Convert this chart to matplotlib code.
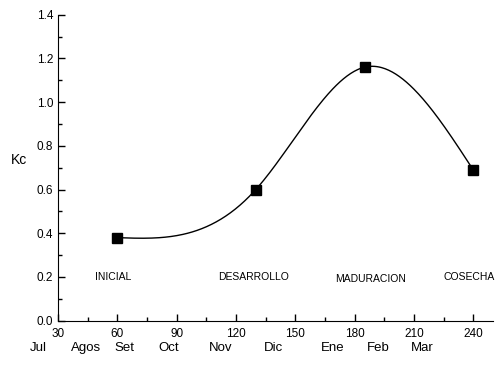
import numpy as np
import matplotlib
matplotlib.use("Agg")
import matplotlib.pyplot as plt
from matplotlib.ticker import MultipleLocator

plt.rcParams['font.family'] = ['Liberation Sans Narrow', 'Liberation Sans', 'DejaVu Sans']

# Data
days = [60, 130, 185, 240]
kc = [0.38, 0.60, 1.16, 0.69]

stages = ['INICIAL', 'DESARROLLO', 'MADURACION', 'COSECHA']
stage_x = [58, 129, 188, 238]
stage_y = [0.20, 0.20, 0.19, 0.20]

months = ['Jul', 'Agos', 'Set', 'Oct', 'Nov', 'Dic', 'Ene', 'Feb', 'Mar']
month_x = [20, 44, 63.5, 86, 112, 139, 169, 192, 214]


def natural_spline(x, y, xs):
    x = np.asarray(x, float)
    y = np.asarray(y, float)
    n = len(x)
    h = np.diff(x)
    A = np.zeros((n, n))
    b = np.zeros(n)
    A[0, 0] = A[-1, -1] = 1
    for i in range(1, n - 1):
        A[i, i - 1] = h[i - 1]
        A[i, i] = 2 * (h[i - 1] + h[i])
        A[i, i + 1] = h[i]
        b[i] = 3 * ((y[i + 1] - y[i]) / h[i] - (y[i] - y[i - 1]) / h[i - 1])
    c = np.linalg.solve(A, b)
    out = np.empty_like(xs)
    for k, xv in enumerate(xs):
        i = min(max(np.searchsorted(x, xv) - 1, 0), n - 2)
        dx = xv - x[i]
        bi = (y[i + 1] - y[i]) / h[i] - h[i] * (2 * c[i] + c[i + 1]) / 3
        di = (c[i + 1] - c[i]) / (3 * h[i])
        out[k] = y[i] + bi * dx + c[i] * dx ** 2 + di * dx ** 3
    return out


fig = plt.figure(figsize=(4.96, 3.69), dpi=100)
ax = fig.add_axes([0.117, 0.131, 0.877, 0.829])

# smooth curve through the measured points
xs = np.linspace(days[0], days[-1], 300)
ax.plot(xs, natural_spline(days, kc, xs), color='black', lw=1)
ax.plot(days, kc, 's', color='black', markersize=6.5)

for s, x, y in zip(stages, stage_x, stage_y):
    ax.text(x, y, s, ha='center', va='center', fontsize=7.5)

ax.set_xlim(30, 250)
ax.set_ylim(0, 1.4)
ax.set_xticks([30, 60, 90, 120, 150, 180, 210, 240])
ax.xaxis.set_minor_locator(MultipleLocator(15))
ax.yaxis.set_major_locator(MultipleLocator(0.2))
ax.yaxis.set_minor_locator(MultipleLocator(0.1))
ax.set_yticklabels([f'{v:.1f}' for v in ax.get_yticks()])
ax.tick_params(direction='in', length=5, width=1, labelsize=8.5)
ax.tick_params(axis='x', pad=5)
ax.tick_params(which='minor', direction='in', length=3, width=1)
ax.spines['top'].set_visible(False)
ax.spines['right'].set_visible(False)

# month names under the day axis
for m, x in zip(months, month_x):
    ax.text(x, -0.125, m, ha='center', va='center', fontsize=9.5, clip_on=False)

ax.text(-0.09, 0.525, 'Kc', transform=ax.transAxes, ha='center', va='center', fontsize=10)

fig.savefig('out.png', dpi=100)
